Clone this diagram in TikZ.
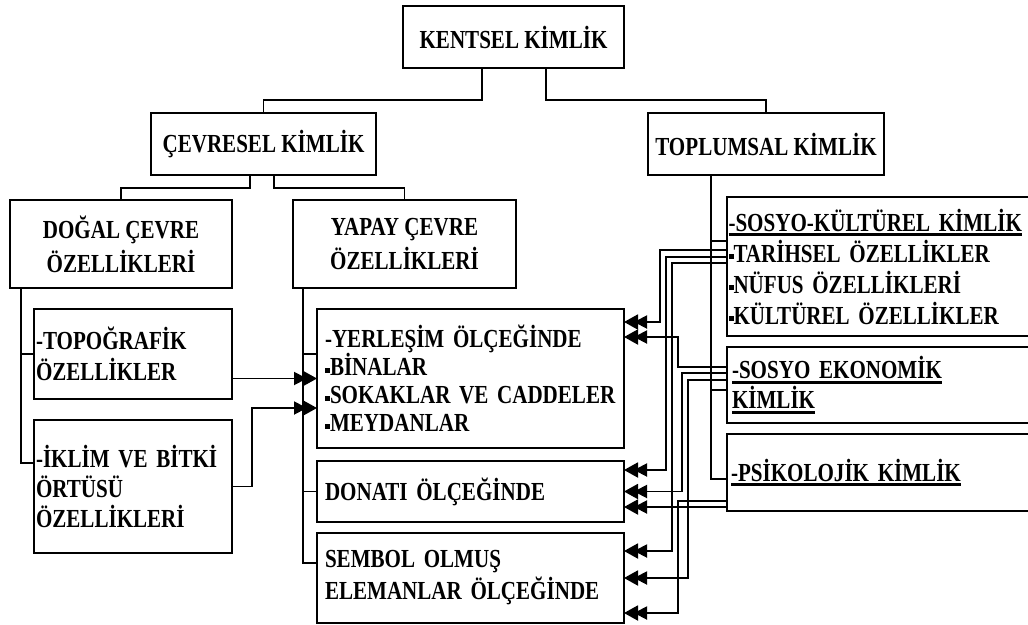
\documentclass[tikz,border=0pt]{standalone}
\usepackage{fontspec}
\setmainfont{Liberation Serif}[FakeStretch=0.81]
\usetikzlibrary{arrows.meta,calc}
\newcommand{\kimul}[1]{\leavevmode\vtop{\hbox{#1}\kern2pt\hrule height 3pt}}
\newcommand{\madde}{\rule[3pt]{5pt}{5pt}}

\begin{document}
\begin{tikzpicture}[x=1pt,y=-1pt,
    kutu/.style={draw,line width=2pt,anchor=north west,outer sep=0pt,inner ysep=0pt,
      font=\bfseries\fontsize{26}{#1}\selectfont},
    kutu/.default=28,
    hat/.style={line width=1.9pt},
    ok/.style={hat,-{Triangle[length=13pt,width=13pt,sep=-4pt]Triangle[length=14pt,width=15pt]}}]
  \useasboundingbox (0,0) rectangle (1028,624);
  % ust kademe
  \node[kutu,align=center,minimum width=221pt,minimum height=62pt] (kent) at (403,6) {KENTSEL KİMLİK};
  \node[kutu,align=center,minimum width=225pt,minimum height=62pt] (cevre) at (151,113) {ÇEVRESEL KİMLİK};
  \node[kutu,align=center,minimum width=236pt,minimum height=62pt] (toplum) at (648,113) {TOPLUMSAL KİMLİK};
  \node[kutu=34,align=center,minimum width=222pt,minimum height=88pt] (dogal) at (10,200) {DOĞAL ÇEVRE\\ÖZELLİKLERİ};
  \node[kutu=34,align=center,minimum width=223pt,minimum height=88pt] (yapay) at (293,200) {YAPAY ÇEVRE\\ÖZELLİKLERİ};
  % dogal cevre alt kutulari
  \node[kutu=31,align=left,inner xsep=2pt,text width=194pt,minimum width=198pt,minimum height=90pt] (topo) at (34,309) {-TOPOĞRAFİK\\ÖZELLİKLER};
  \node[kutu=30,align=left,inner xsep=2pt,text width=194pt,minimum width=198pt,minimum height=133pt] (iklim) at (34,420) {-İKLİM VE BİTKİ\\ÖRTÜSÜ\\ÖZELLİKLERİ};
  % yapay cevre alt kutulari
  \node[kutu,align=left,inner xsep=8pt,text width=291pt,minimum width=307pt,minimum height=139pt] (yerlesim) at (317,309) {-YERLEŞİM ÖLÇEĞİNDE\\\madde BİNALAR\\\mbox{\madde SOKAKLAR VE CADDELER}\\\madde MEYDANLAR};
  \node[kutu,align=left,inner xsep=8pt,text width=291pt,minimum width=307pt,minimum height=61pt] (donati) at (317,461) {DONATI ÖLÇEĞİNDE};
  \node[kutu=32,align=left,inner xsep=8pt,text width=291pt,minimum width=307pt,minimum height=90pt] (sembol) at (317,533) {SEMBOL OLMUŞ\\\mbox{ELEMANLAR ÖLÇEĞİNDE}};
  % toplumsal kimlik alt kutulari
  \node[kutu=31,align=left,inner xsep=1.5pt,text width=310pt,minimum width=313pt,minimum height=139pt] (sosyokul) at (727,197) {\kimul{-SOSYO-KÜLTÜREL KİMLİK}\\\madde TARİHSEL ÖZELLİKLER\\\madde NÜFUS ÖZELLİKLERİ\\\madde KÜLTÜREL ÖZELLİKLER};
  \node[kutu=30,align=left,inner xsep=5pt,text width=303pt,minimum width=313pt,minimum height=76pt] (sosyoeko) at (727,347) {\kimul{-SOSYO EKONOMİK}\\\kimul{KİMLİK}};
  \node[kutu,align=left,inner xsep=4pt,text width=305pt,minimum width=313pt,minimum height=77pt] (psiko) at (727,434) {\kimul{-PSİKOLOJİK KİMLİK}};

  % agac baglantilari
  \draw[hat] ([xshift=-31.5pt]kent.south) -- ++(0,32) -| (cevre.north);
  \draw[hat] ([xshift=32.5pt]kent.south) -- ++(0,32) -| (toplum.north);
  \draw[hat] ([xshift=-13.5pt]cevre.south) -- ++(0,13) -| (dogal.north);
  \draw[hat] ([xshift=10.5pt]cevre.south) -- ++(0,13) -| (yapay.north);
  \draw[hat] ([xshift=11pt]dogal.south west) |- (topo.west);
  \draw[hat] ([xshift=11pt]dogal.south west) |- ([yshift=23.5pt]iklim.west);
  \draw[hat] ([xshift=10pt]yapay.south west) |- ([yshift=24.5pt]yerlesim.west);
  \draw[hat] ([xshift=10pt]yapay.south west) |- (donati.west);
  \draw[hat] ([xshift=10pt]yapay.south west) |- ([yshift=15pt]sembol.west);
  \draw[hat] ([xshift=63pt]toplum.south west) |- ([yshift=25.5pt]sosyokul.west);
  \draw[hat] ([xshift=63pt]toplum.south west) |- ([yshift=-5pt]sosyoeko.west);
  \draw[hat] ([xshift=63pt]toplum.south west) |- ([yshift=-6.5pt]psiko.west);

  % dogal cevre -> yerlesim
  \draw[ok] (yerlesim.west -| topo.east) -- (yerlesim.west);
  \draw[ok] (iklim.east) -- ++(20,0) |- ([yshift=-29.5pt]yerlesim.west);

  % sosyo-kulturel kimlik
  \draw[ok] ([yshift=16.5pt]sosyokul.west) -| ([xshift=36pt,yshift=56.5pt]yerlesim.east) -- ([yshift=56.5pt]yerlesim.east);
  \draw[ok] ([yshift=9.5pt]sosyokul.west) -| ([xshift=42pt,yshift=21.5pt]donati.east) -- ([yshift=21.5pt]donati.east);
  \draw[ok] ([yshift=3.5pt]sosyokul.west) -| ([xshift=48pt,yshift=27pt]sembol.east) -- ([yshift=27pt]sembol.east);
  % sosyo ekonomik kimlik
  \draw[ok] ([yshift=18pt]sosyoeko.west) -| ([xshift=54pt,yshift=41.5pt]yerlesim.east) -- ([yshift=41.5pt]yerlesim.east);
  \draw[ok] ([yshift=12pt]sosyoeko.west) -| ([xshift=58pt]donati.east) -- (donati.east);
  \draw[ok] ([yshift=5pt]sosyoeko.west) -| ([xshift=64pt]sembol.east) -- (sembol.east);
  % psikolojik kimlik
  \draw[ok] ([yshift=-28.5pt]psiko.west) -| ([xshift=54pt,yshift=-35pt]sembol.east) -- ([yshift=-35pt]sembol.east);
  \draw[ok] ([yshift=-34.5pt]psiko.west) -- ([yshift=-15.5pt]donati.east);
\end{tikzpicture}
\end{document}
